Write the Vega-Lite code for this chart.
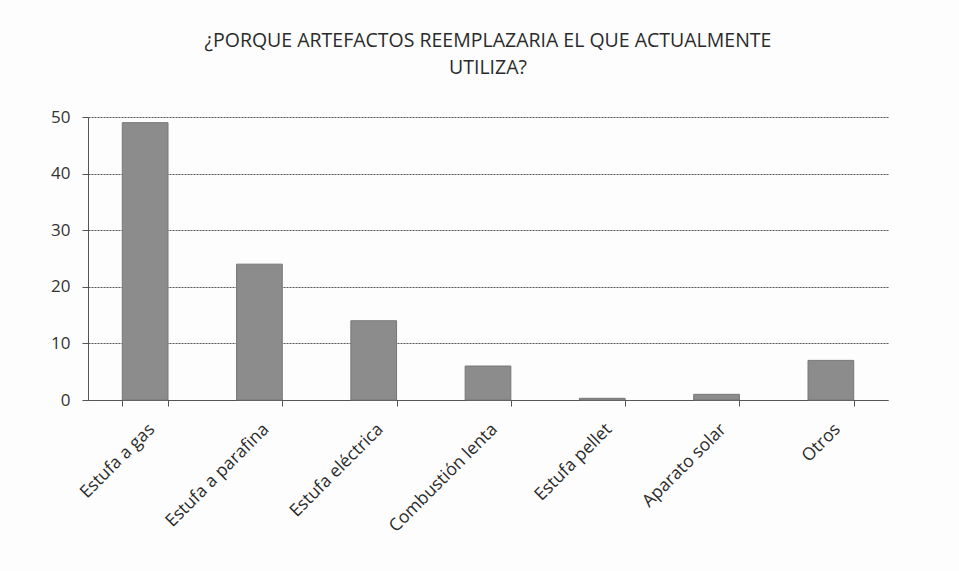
{
  "$schema": "https://vega.github.io/schema/vega-lite/v6.json",
  "width": 800,
  "height": 283,
  "autosize": {"type": "none"},
  "padding": {"left": 88, "top": 117, "right": 71, "bottom": 171},
  "background": "#fdfdfd",
  "title": {
    "text": ["¿PORQUE ARTEFACTOS REEMPLAZARIA EL QUE ACTUALMENTE", "UTILIZA?"],
    "font": "Open Sans",
    "fontSize": 19.5,
    "fontWeight": "normal",
    "color": "#2a2a2a",
    "lineHeight": 27,
    "anchor": "middle",
    "offset": 30
  },
  "data": {
    "values": [
      {"categoria": "Estufa a gas", "valor": 49},
      {"categoria": "Estufa a parafina", "valor": 24},
      {"categoria": "Estufa eléctrica", "valor": 14},
      {"categoria": "Combustión lenta", "valor": 6},
      {"categoria": "Estufa pellet", "valor": 0.3},
      {"categoria": "Aparato solar", "valor": 1},
      {"categoria": "Otros", "valor": 7}
    ]
  },
  "mark": {"type": "bar", "color": "#8c8c8c", "stroke": "#777777", "strokeWidth": 1},
  "encoding": {
    "x": {
      "field": "categoria",
      "type": "nominal",
      "sort": null,
      "title": null,
      "scale": {"paddingInner": 0.6, "paddingOuter": 0.3},
      "axis": {
        "labelAngle": -45,
        "labelFont": "Open Sans",
        "labelFontSize": 17.5,
        "labelColor": "#2a2a2a",
        "labelPadding": 14,
        "domainColor": "#555555",
        "tickColor": "#555555",
        "tickBand": "extent",
        "tickSize": 6,
        "grid": false
      }
    },
    "y": {
      "field": "valor",
      "type": "quantitative",
      "title": null,
      "scale": {"domain": [0, 50], "nice": false},
      "axis": {
        "values": [0, 10, 20, 30, 40, 50],
        "labelFont": "Open Sans",
        "labelFontSize": 17,
        "labelColor": "#333333",
        "labelPadding": 12,
        "domainColor": "#555555",
        "tickColor": "#555555",
        "tickSize": 6,
        "gridColor": "#555555",
        "gridDash": [2, 1],
        "gridWidth": 1
      }
    }
  },
  "config": {
    "view": {"stroke": null}
  }
}
